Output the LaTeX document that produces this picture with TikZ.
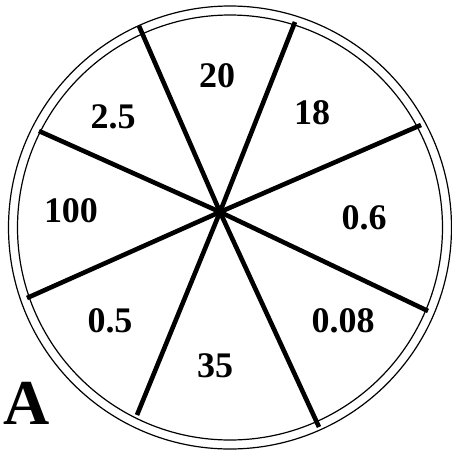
\documentclass[tikz,border=0pt]{standalone}
\usepackage{fontspec}
\setmainfont{Liberation Serif}
\begin{document}
\begin{tikzpicture}[x=1pt,y=-1pt,
  ring/.style={line width=1.2pt,black},
  spoke/.style={line width=4.6pt,black,line cap=butt},
  lbl/.style={font=\fontsize{36}{36}\selectfont\bfseries,inner sep=0pt,anchor=base},
  biglbl/.style={font=\fontsize{64}{64}\selectfont\bfseries,inner sep=0pt,anchor=base}]
\useasboundingbox (0,0) rectangle (452,456);
\coordinate (c0) at (230,227.5);
\coordinate (hub) at (220,212);
\draw[ring] (c0) circle (221.5pt);
\draw[ring] (c0) circle (212.5pt);
\coordinate (e1) at (139,26);
\coordinate (e2) at (295,22);
\coordinate (e3) at (421,125);
\coordinate (e4) at (428,311);
\coordinate (e5) at (319,427);
\coordinate (e6) at (137,415);
\coordinate (e7) at (27,298);
\coordinate (e8) at (39,131);
\foreach \e in {e1,e2,e3,e4,e5,e6,e7,e8} \draw[spoke] (hub) -- (\e);
\node[lbl] (l20) at (217,87) {20};
\node[lbl] (l18) at (312,124) {18};
\node[lbl] (l06) at (364,229) {0.6};
\node[lbl] (l008) at (343,332) {0.08};
\node[lbl] (l35) at (215,377) {35};
\node[lbl] (l05) at (110,332) {0.5};
\node[lbl] (l100) at (71,222) {100};
\node[lbl] (l25) at (113,128) {2.5};
\node[biglbl] (la) at (27,424) {A};
\end{tikzpicture}
\end{document}
